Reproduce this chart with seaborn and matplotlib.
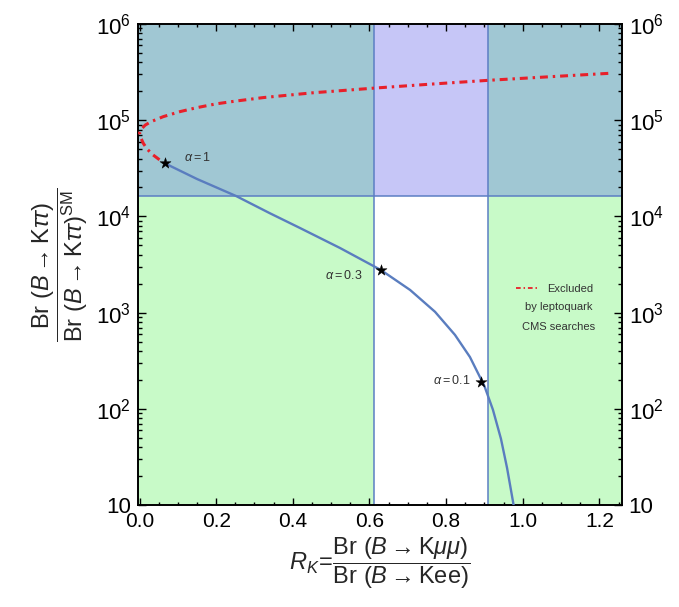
import numpy as np
import pandas as pd
import matplotlib
matplotlib.use("Agg")
import matplotlib.pyplot as plt
import seaborn as sns
from matplotlib.ticker import FixedLocator, MultipleLocator, LogLocator, NullFormatter

sns.set_style("ticks")
plt.rcParams['font.family'] = ['Liberation Sans', 'DejaVu Sans']
plt.rcParams['mathtext.fontset'] = 'custom'
plt.rcParams['mathtext.rm'] = 'Liberation Sans'
plt.rcParams['mathtext.it'] = 'Liberation Sans:italic'
plt.rcParams['mathtext.bf'] = 'Liberation Sans:bold'

# blue curve (alpha < 1)
rk_blue = [0.0665, 0.150, 0.252, 0.340, 0.419, 0.523, 0.630, 0.706, 0.771, 0.823,
           0.862, 0.900, 0.922, 0.943, 0.959, 0.976]
ratio_blue = [3.56e4, 2.45e4, 1.63e4, 1.08e4, 7.57e3, 4.70e3, 2.77e3, 1.72e3, 1.02e3, 587,
              346, 172, 98, 48.8, 24.2, 10]

# red dash-dot curve (excluded by leptoquark searches), from the right end back to alpha=1
rk_red = [1.223, 1.062, 0.910, 0.758, 0.614, 0.453, 0.323, 0.250, 0.200, 0.149, 0.106,
          0.062, 0.030, 0.015, 0.005, 0.0,
          0.003, 0.010, 0.020, 0.035, 0.050, 0.0665]
ratio_red = [3.07e5, 2.82e5, 2.60e5, 2.37e5, 2.16e5, 1.93e5, 1.72e5, 1.58e5, 1.48e5, 1.35e5, 1.23e5,
             1.09e5, 9.66e4, 8.91e4, 8.13e4, 7.41e4,
             6.61e4, 5.75e4, 5.01e4, 4.37e4, 3.94e4, 3.56e4]

# benchmark points
alpha_labels = [r"$\alpha = 1$", r"$\alpha = 0.3$", r"$\alpha = 0.1$"]
rk_star = [0.0665, 0.629, 0.891]
ratio_star = [3.56e4, 2.77e3, 1.88e2]

# allowed regions
rk_band = (0.613, 0.910)
ratio_limit = 1.63e4

blue_df = pd.DataFrame({"rk": rk_blue, "ratio": ratio_blue})
red_df = pd.DataFrame({"rk": rk_red, "ratio": ratio_red})
star_df = pd.DataFrame({"rk": rk_star, "ratio": ratio_star})

fig = plt.figure(figsize=(6.79, 6.07), dpi=100)
ax = fig.add_axes([0.2032, 0.168, 0.7124, 0.7924])
xmin, xmax = -0.004, 1.258
ymin, ymax = 10, 1e6
ax.set_xlim(xmin, xmax)
ax.set_yscale("log")
ax.set_ylim(ymin, ymax)

green = "#c8fac8"
steel = "#a0c7d3"
lavender = "#c6c6f7"
edge = "#5b7ec4"

ax.axhspan(ymin, ratio_limit, color=green, lw=0, zorder=0)
ax.axhspan(ratio_limit, ymax, color=steel, lw=0, zorder=0)
ax.fill_between(list(rk_band), ymin, ratio_limit, color="white", lw=0, zorder=0.5)
ax.fill_between(list(rk_band), ratio_limit, ymax, color=lavender, lw=0, zorder=0.5)
ax.axvline(rk_band[0], color=edge, lw=1.1, zorder=1)
ax.axvline(rk_band[1], color=edge, lw=1.1, zorder=1)
ax.axhline(ratio_limit, color=edge, lw=1.1, zorder=1)

sns.lineplot(data=blue_df, x="rk", y="ratio", sort=False, estimator=None, ax=ax,
             color="#5a7dbf", lw=1.7, zorder=3)
sns.lineplot(data=red_df, x="rk", y="ratio", sort=False, estimator=None, ax=ax,
             color="#e8202a", lw=2.2, zorder=3, dashes=False)
red_line = ax.lines[-1]
red_line.set_linestyle((0, (2.6, 1.6, 0.8, 1.6)))
for ln in ax.lines[-2:]:
    ln.set_solid_joinstyle("round")
    ln.set_dash_joinstyle("round")
sns.scatterplot(data=star_df, x="rk", y="ratio", marker="*", s=70, color="black",
                edgecolor="black", linewidth=0.3, ax=ax, zorder=4)

ax.text(0.115, 4.1e4, alpha_labels[0], fontsize=9, color="#333333", ha="left", va="center")
ax.text(0.581, 2.45e3, alpha_labels[1], fontsize=9, color="#333333", ha="right", va="center")
ax.text(0.862, 1.98e2, alpha_labels[2], fontsize=9, color="#333333", ha="right", va="center")

# legend entry
leg = ax.legend([red_line], ["Excluded"], loc="upper left", bbox_to_anchor=(0.76, 0.48),
                frameon=False, fontsize=8, handlelength=1.9, handletextpad=0.9)
leg.get_lines()[0].set_linewidth(1.3)
for t in leg.get_texts():
    t.set_color("#333333")
ax.text(0.87, 0.405, "by leptoquark", transform=ax.transAxes, fontsize=8, color="#333333", ha="center")
ax.text(0.87, 0.364, "CMS searches", transform=ax.transAxes, fontsize=8, color="#333333", ha="center")

# ticks
ax.xaxis.set_minor_locator(MultipleLocator(0.05))
ax.set_xticks([0, 0.2, 0.4, 0.6, 0.8, 1.0, 1.2])
ax.set_xticklabels(["0.0", "0.2", "0.4", "0.6", "0.8", "1.0", "1.2"])
ax.yaxis.set_major_locator(FixedLocator([10, 1e2, 1e3, 1e4, 1e5, 1e6]))
ax.set_yticklabels(["10", "$10^2$", "$10^3$", "$10^4$", "$10^5$", "$10^6$"])
ax.yaxis.set_minor_locator(LogLocator(base=10, subs=np.arange(2, 10), numticks=20))
ax.yaxis.set_minor_formatter(NullFormatter())
ax.tick_params(axis="both", which="both", direction="in", top=True, right=True,
               labelright=True, width=1.0, colors="black")
ax.tick_params(axis="x", which="major", length=5, labelsize=15, pad=5)
ax.tick_params(axis="x", which="minor", length=2.5)
ax.tick_params(axis="y", which="major", length=6, labelsize=16, pad=5)
ax.tick_params(axis="y", which="minor", length=3)
for s in ax.spines.values():
    s.set_linewidth(1.4)
    s.set_color("black")

ax.set_xlabel(r"$R_K\!=\!\dfrac{\mathrm{Br}\ (B \rightarrow \mathrm{K}\mu\mu)}{\mathrm{Br}\ (B \rightarrow \mathrm{Kee})}$",
              fontsize=17, labelpad=3)
ax.set_ylabel(r"$\dfrac{\mathrm{Br}\ (B \rightarrow \mathrm{K}\tau\tau)}{\mathrm{Br}\ (B \rightarrow \mathrm{K}\tau\tau)^{\mathrm{SM}}}$",
              fontsize=17, labelpad=4)

fig.savefig("out.png", dpi=100)
